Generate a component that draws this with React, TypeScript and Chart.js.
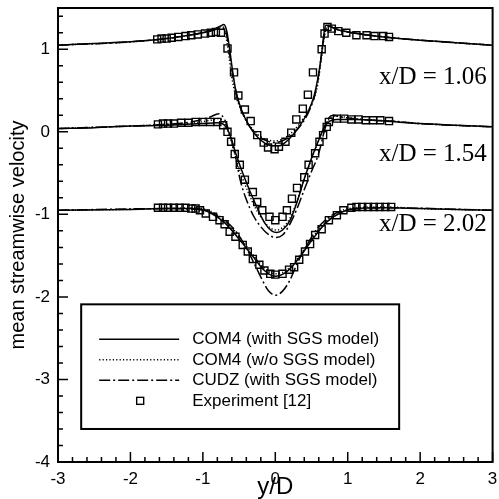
import { useEffect, useRef } from "react";
import { Chart, registerables } from "chart.js";

Chart.register(...registerables);

type P = [number, number];

// ---------- x/D = 1.06 ----------
const com4Sgs106: P[] = [[-3,1.05],[-2.5,1.07],[-2,1.09],[-1.5,1.13],[-1.2,1.17],[-1,1.2],[-0.85,1.24],[-0.76,1.28],[-0.71,1.3],[-0.67,1.22],[-0.63,1.0],[-0.59,0.74],[-0.55,0.52],[-0.5,0.35],[-0.42,0.17],[-0.33,0.03],[-0.24,-0.07],[-0.14,-0.14],[-0.04,-0.17],[0.05,-0.17],[0.15,-0.12],[0.25,-0.03],[0.35,0.09],[0.45,0.24],[0.53,0.42],[0.59,0.66],[0.64,0.95],[0.67,1.18],[0.7,1.29],[0.75,1.28],[0.85,1.24],[1,1.21],[1.3,1.17],[1.6,1.14],[2,1.11],[2.5,1.08],[3,1.05]];
const com4NoSgs106: P[] = [[-3,1.05],[-2,1.09],[-1.5,1.13],[-1,1.2],[-0.85,1.24],[-0.77,1.27],[-0.72,1.27],[-0.68,1.15],[-0.64,0.92],[-0.6,0.66],[-0.55,0.45],[-0.48,0.28],[-0.4,0.14],[-0.3,0.02],[-0.2,-0.06],[-0.1,-0.1],[0,-0.11],[0.1,-0.09],[0.2,-0.03],[0.3,0.06],[0.4,0.18],[0.5,0.33],[0.58,0.55],[0.63,0.85],[0.67,1.12],[0.71,1.27],[0.76,1.28],[0.85,1.24],[1,1.21],[1.5,1.15],[2,1.11],[3,1.05]];
const cudz106: P[] = [[-3,1.05],[-2,1.09],[-1.5,1.13],[-1,1.2],[-0.85,1.23],[-0.75,1.26],[-0.7,1.25],[-0.66,1.12],[-0.62,0.88],[-0.57,0.6],[-0.52,0.4],[-0.45,0.22],[-0.35,0.06],[-0.25,-0.04],[-0.12,-0.11],[0,-0.13],[0.12,-0.1],[0.25,-0.02],[0.37,0.1],[0.47,0.26],[0.55,0.46],[0.61,0.75],[0.65,1.02],[0.69,1.22],[0.73,1.28],[0.8,1.26],[1,1.21],[1.5,1.15],[2,1.11],[3,1.05]];
const exp106: P[] = [[-1.63,1.12],[-1.57,1.13],[-1.5,1.13],[-1.43,1.14],[-1.34,1.15],[-1.24,1.16],[-1.16,1.17],[-1.07,1.18],[-0.97,1.19],[-0.89,1.2],[-0.82,1.21],[-0.75,1.2],[-0.66,1.01],[-0.57,0.72],[-0.51,0.44],[-0.42,0.27],[-0.34,0.13],[-0.25,-0.04],[-0.16,-0.13],[-0.1,-0.19],[-0.01,-0.21],[0.05,-0.18],[0.14,-0.12],[0.22,-0.01],[0.29,0.15],[0.38,0.28],[0.45,0.45],[0.52,0.72],[0.64,1.0],[0.68,1.19],[0.72,1.27],[0.78,1.25],[0.87,1.22],[0.98,1.2],[1.12,1.17],[1.26,1.17],[1.37,1.16],[1.49,1.16],[1.57,1.15]];

// ---------- x/D = 1.54 ----------
const com4Sgs154: P[] = [[-3,0.04],[-2.5,0.05],[-2,0.07],[-1.5,0.08],[-1,0.1],[-0.8,0.11],[-0.7,0.08],[-0.62,-0.05],[-0.55,-0.25],[-0.45,-0.5],[-0.35,-0.72],[-0.25,-0.92],[-0.15,-1.1],[-0.05,-1.2],[0.02,-1.22],[0.1,-1.19],[0.2,-1.08],[0.3,-0.85],[0.4,-0.57],[0.5,-0.32],[0.6,-0.1],[0.68,0.06],[0.75,0.13],[0.85,0.15],[1.1,0.15],[1.5,0.13],[2,0.1],[2.5,0.08],[3,0.06]];
const com4NoSgs154: P[] = [[-3,0.04],[-2,0.07],[-1.5,0.09],[-1.1,0.11],[-0.9,0.14],[-0.78,0.16],[-0.7,0.1],[-0.63,-0.05],[-0.56,-0.27],[-0.47,-0.52],[-0.37,-0.74],[-0.27,-0.93],[-0.16,-1.08],[-0.06,-1.17],[0.02,-1.19],[0.1,-1.16],[0.2,-1.05],[0.3,-0.84],[0.4,-0.57],[0.5,-0.33],[0.6,-0.1],[0.68,0.07],[0.75,0.16],[0.82,0.19],[0.95,0.18],[1.2,0.15],[1.6,0.13],[2,0.1],[3,0.06]];
const cudz154: P[] = [[-3,0.04],[-2,0.07],[-1.5,0.09],[-1.1,0.13],[-0.9,0.18],[-0.78,0.22],[-0.7,0.15],[-0.62,-0.05],[-0.55,-0.3],[-0.48,-0.6],[-0.4,-0.82],[-0.3,-1.02],[-0.2,-1.15],[-0.1,-1.24],[0,-1.28],[0.1,-1.25],[0.2,-1.12],[0.3,-0.93],[0.4,-0.7],[0.5,-0.48],[0.6,-0.26],[0.68,0.02],[0.74,0.17],[0.8,0.2],[0.9,0.18],[1.2,0.15],[1.6,0.13],[2,0.1],[3,0.06]];
const exp154: P[] = [[-1.62,0.09],[-1.55,0.1],[-1.48,0.1],[-1.4,0.1],[-1.3,0.11],[-1.2,0.11],[-1.1,0.12],[-1.0,0.12],[-0.9,0.12],[-0.8,0.12],[-0.72,0.08],[-0.66,0.0],[-0.61,-0.12],[-0.56,-0.27],[-0.49,-0.4],[-0.42,-0.58],[-0.31,-0.73],[-0.25,-0.85],[-0.18,-0.95],[-0.08,-1.03],[0,-1.07],[0.1,-1.03],[0.16,-0.95],[0.23,-0.81],[0.3,-0.68],[0.4,-0.55],[0.46,-0.4],[0.55,-0.26],[0.61,-0.12],[0.66,-0.04],[0.71,0.06],[0.74,0.12],[0.85,0.16],[0.95,0.16],[1.05,0.15],[1.15,0.15],[1.25,0.14],[1.35,0.14],[1.45,0.14],[1.57,0.13]];

// ---------- x/D = 2.02 ----------
const com4Sgs202: P[] = [[-3,-0.95],[-2,-0.94],[-1.5,-0.93],[-1.1,-0.93],[-0.9,-0.98],[-0.7,-1.1],[-0.5,-1.3],[-0.3,-1.52],[-0.15,-1.68],[0,-1.75],[0.15,-1.7],[0.3,-1.56],[0.5,-1.32],[0.7,-1.1],[0.9,-0.98],[1.1,-0.93],[1.5,-0.92],[2,-0.93],[3,-0.95]];
const com4NoSgs202: P[] = [[-3,-0.95],[-2,-0.94],[-1.5,-0.93],[-1.1,-0.92],[-0.9,-0.96],[-0.7,-1.07],[-0.5,-1.27],[-0.3,-1.5],[-0.15,-1.65],[0,-1.72],[0.15,-1.68],[0.3,-1.54],[0.5,-1.3],[0.7,-1.08],[0.9,-0.96],[1.1,-0.92],[1.5,-0.91],[2,-0.93],[3,-0.95]];
const cudz202: P[] = [[-3,-0.95],[-1.5,-0.93],[-1.0,-0.95],[-0.8,-1.02],[-0.6,-1.15],[-0.45,-1.33],[-0.3,-1.58],[-0.2,-1.76],[-0.1,-1.92],[0,-1.98],[0.1,-1.93],[0.2,-1.8],[0.3,-1.6],[0.45,-1.35],[0.6,-1.15],[0.8,-1.0],[1.0,-0.95],[1.5,-0.92],[3,-0.95]];
const exp202: P[] = [[-1.62,-0.92],[-1.55,-0.92],[-1.48,-0.92],[-1.4,-0.92],[-1.32,-0.92],[-1.24,-0.92],[-1.16,-0.93],[-1.1,-0.93],[-1.04,-0.95],[-0.96,-0.99],[-0.86,-1.03],[-0.77,-1.07],[-0.7,-1.12],[-0.63,-1.21],[-0.55,-1.27],[-0.45,-1.37],[-0.38,-1.45],[-0.31,-1.54],[-0.22,-1.61],[-0.15,-1.68],[-0.07,-1.72],[0,-1.73],[0.1,-1.72],[0.19,-1.67],[0.26,-1.64],[0.33,-1.55],[0.41,-1.45],[0.48,-1.36],[0.55,-1.25],[0.64,-1.18],[0.74,-1.07],[0.85,-1.01],[0.94,-0.95],[1.05,-0.92],[1.12,-0.91],[1.2,-0.91],[1.28,-0.91],[1.36,-0.91],[1.44,-0.91],[1.52,-0.91],[1.6,-0.91]];

const legendLabels = ["COM4 (with SGS model)", "COM4 (w/o SGS model)", "CUDZ (with SGS model)", "Experiment [12]"];
const stationLabels = ["x/D = 1.06", "x/D = 1.54", "x/D = 2.02"];
const xTicks = [-3, -2, -1, 0, 1, 2, 3];
const yTicks = [-4, -3, -2, -1, 0, 1];

const SANS = "'Liberation Sans', Arial, Helvetica, sans-serif";
const SERIF = "'Liberation Serif', 'Times New Roman', serif";

const DOT = [1.2, 2.2];
const DASHDOT = [11, 3, 2, 3];

const toXY = (d: P[]) => d.map(([x, y]) => ({ x, y }));

function lineDs(d: P[], dash: number[], order: number) {
  return {
    data: toXY(d),
    showLine: true,
    borderColor: "#000",
    borderWidth: 1.5,
    borderDash: dash,
    pointRadius: 0,
    cubicInterpolationMode: "monotone" as const,
    order,
  };
}
function expDs(d: P[]) {
  return {
    data: toXY(d),
    showLine: false,
    pointStyle: "rect" as const,
    pointRadius: 5,
    borderColor: "#000",
    borderWidth: 1.4,
    backgroundColor: "rgba(0,0,0,0)",
    order: 0,
  };
}

const decorPlugin = {
  id: "decor",
  afterDraw(chart: any) {
    const { ctx, chartArea: a, scales } = chart;
    const xs = scales.x, ys = scales.y;
    ctx.save();
    ctx.strokeStyle = "#000";
    ctx.fillStyle = "#000";
    // frame
    ctx.lineWidth = 2;
    ctx.setLineDash([]);
    ctx.strokeRect(a.left, a.top, a.right - a.left, a.bottom - a.top);
    // ticks (inward)
    ctx.lineWidth = 1.5;
    ctx.beginPath();
    for (let i = 0; i <= 30; i++) {
      const v = -3 + i * 0.2;
      const px = xs.getPixelForValue(v);
      const major = i % 5 === 0;
      ctx.moveTo(px, a.bottom);
      ctx.lineTo(px, a.bottom - (major ? 10 : 5));
    }
    for (let i = 0; i <= 27; i++) {
      const v = -4 + i * 0.2;
      const py = ys.getPixelForValue(v);
      const major = i % 5 === 0;
      ctx.moveTo(a.left, py);
      ctx.lineTo(a.left + (major ? 10 : 5), py);
    }
    ctx.stroke();

    // station labels
    ctx.font = `25px ${SERIF}`;
    ctx.textAlign = "right";
    ctx.textBaseline = "middle";
    const stY = [0.66, -0.27, -1.12];
    stationLabels.forEach((t, i) => ctx.fillText(t, xs.getPixelForValue(2.92), ys.getPixelForValue(stY[i])));

    // legend box
    const bx0 = xs.getPixelForValue(-2.68), bx1 = xs.getPixelForValue(1.71);
    const by0 = ys.getPixelForValue(-2.09), by1 = ys.getPixelForValue(-3.6);
    ctx.fillStyle = "#fff";
    ctx.fillRect(bx0, by0, bx1 - bx0, by1 - by0);
    ctx.fillStyle = "#000";
    ctx.lineWidth = 2;
    ctx.strokeRect(bx0, by0, bx1 - bx0, by1 - by0);
    ctx.font = `17px ${SANS}`;
    ctx.textAlign = "left";
    const dashes = [[], DOT, DASHDOT];
    legendLabels.forEach((t, i) => {
      const y = by0 + 35 + i * 20.5;
      if (i < 3) {
        ctx.setLineDash(dashes[i]);
        ctx.lineWidth = 1.5;
        ctx.beginPath();
        ctx.moveTo(bx0 + 18, y);
        ctx.lineTo(bx0 + 98, y);
        ctx.stroke();
        ctx.setLineDash([]);
      } else {
        ctx.lineWidth = 1.4;
        ctx.strokeRect(bx0 + 59 - 3.5, y - 3.5, 7, 7);
      }
      ctx.fillText(t, bx0 + 111, y);
    });
    ctx.restore();
  },
};

export default function App() {
  const ref = useRef<HTMLCanvasElement>(null);
  useEffect(() => {
    document.body.style.margin = "0";
    const chart = new Chart(ref.current!, {
      type: "scatter",
      data: {
        datasets: [
          expDs(exp106), expDs(exp154), expDs(exp202),
          lineDs(com4Sgs106, [], 1), lineDs(com4Sgs154, [], 1), lineDs(com4Sgs202, [], 1),
          lineDs(com4NoSgs106, DOT, 2), lineDs(com4NoSgs154, DOT, 2), lineDs(com4NoSgs202, DOT, 2),
          lineDs(cudz106, DASHDOT, 3), lineDs(cudz154, DASHDOT, 3), lineDs(cudz202, DASHDOT, 3),
        ] as any,
      },
      options: {
        animation: false,
        responsive: false,
        layout: { padding: { top: 8, right: 2, left: 0, bottom: 0 } },
        plugins: { legend: { display: false }, tooltip: { enabled: false } },
        scales: {
          x: {
            type: "linear",
            min: -3,
            max: 3,
            afterBuildTicks: (s: any) => { s.ticks = xTicks.map((v) => ({ value: v })); },
            afterFit: (s: any) => { s.height = 37; s.paddingLeft = 0; s.paddingRight = 0; },
            grid: { display: false, drawTicks: false },
            border: { display: false },
            ticks: { color: "#000", font: { family: SANS, size: 17 }, padding: 7, maxRotation: 0 },
            title: { display: true, text: "y/D", color: "#000", font: { family: SANS, size: 24, lineHeight: 1 }, padding: { top: 0, bottom: 0 } },
          },
          y: {
            type: "linear",
            min: -4,
            max: 1.5,
            afterBuildTicks: (s: any) => { s.ticks = yTicks.map((v) => ({ value: v })); },
            afterFit: (s: any) => { s.width = 58; s.paddingTop = 0; s.paddingBottom = 0; },
            grid: { display: false, drawTicks: false },
            border: { display: false },
            ticks: { color: "#000", font: { family: SANS, size: 17 }, padding: 8 },
            title: { display: true, text: "mean streamwise velocity", color: "#000", font: { family: SANS, size: 20, lineHeight: 1.2 }, padding: { top: 6, bottom: 0 } },
          },
        },
      },
      plugins: [decorPlugin],
    });
    return () => chart.destroy();
  }, []);
  return (
    <div style={{ width: 499, height: 499 }}>
      <canvas ref={ref} width={499} height={499} style={{ display: "block" }} />
    </div>
  );
}
